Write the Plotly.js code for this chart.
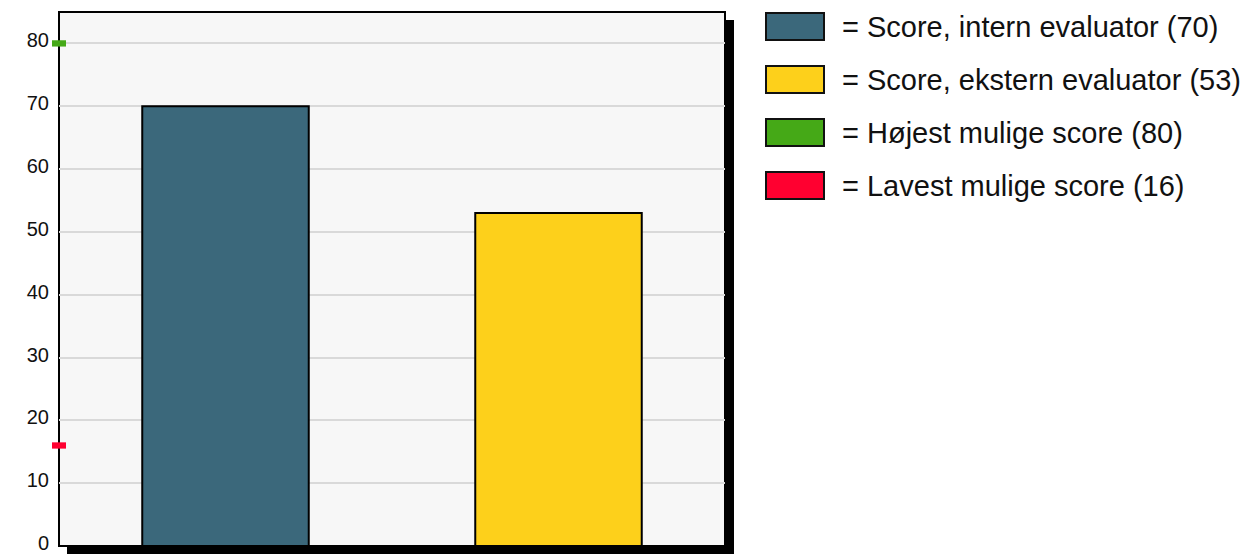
<!DOCTYPE html>
<html>
<head>
<meta charset="utf-8">
<script src="https://cdn.plot.ly/plotly-3.0.1.min.js"></script>
<style>html,body{margin:0;padding:0;background:#fff;}#chart{width:1251px;height:554px;}</style>
</head>
<body>
<div id="chart"></div>
<script>
const categories = ['Intern', 'Ekstern'];
const scores = [70, 53];
const barColors = ['#3b687b', '#fdd01b'];
const maxScore = 80;
const minScore = 16;
const markerColors = ['#45a917', '#ff0030'];
const legendLabels = ['Score, intern evaluator', 'Score, ekstern evaluator', 'Højest mulige score', 'Lavest mulige score'];
const legendValues = [scores[0], scores[1], maxScore, minScore];
const legendColors = [barColors[0], barColors[1], markerColors[0], markerColors[1]];
const yTicks = [0, 10, 20, 30, 40, 50, 60, 70, 80];

const W = 1251, H = 554;
const L = 59, R = 725, T = 12, B = 546;
const pw = R - L, ph = B - T;
const px = v => (v - L) / pw;
const py = v => (B - v) / ph;

const shapes = [
  {type:'rect', xref:'paper', yref:'paper', layer:'below', x0:px(L+8), x1:px(R+9), y0:py(B+9), y1:py(T+8), fillcolor:'#000', line:{width:0}},
  {type:'rect', xref:'paper', yref:'paper', layer:'below', x0:0, x1:1, y0:0, y1:1, fillcolor:'#f7f7f7', line:{color:'#000', width:2}}
];
[maxScore, minScore].forEach((v, i) => {
  shapes.push({type:'rect', xref:'paper', yref:'y', layer:'above', x0:px(52), x1:px(66), y0:v - 0.5, y1:v + 0.5, fillcolor:markerColors[i], line:{width:0}});
});
const annotations = [];
const rowTops = [13, 66, 119, 172];
legendLabels.forEach((lab, i) => {
  shapes.push({type:'rect', xref:'paper', yref:'paper', x0:px(766), x1:px(824), y0:py(rowTops[i] + 27), y1:py(rowTops[i]), fillcolor:legendColors[i], line:{color:'#111', width:2}});
  annotations.push({xref:'paper', yref:'paper', x:px(840), y:py(rowTops[i] + 14), xanchor:'left', yanchor:'middle', showarrow:false, text:'= ' + lab + ' (' + legendValues[i] + ')', font:{family:'Liberation Sans, Arial, sans-serif', size:29, color:'#111'}});
});

const data = [{
  type:'bar', x:categories, y:scores, width:0.5,
  marker:{color:barColors, line:{color:'#000', width:2}},
  hoverinfo:'none'
}];

const layout = {
  width:W, height:H,
  margin:{l:L, r:W - R, t:T, b:H - B, pad:0},
  paper_bgcolor:'#fff', plot_bgcolor:'rgba(0,0,0,0)',
  showlegend:false,
  xaxis:{range:[-0.5, 1.5], showticklabels:false, showgrid:false, zeroline:false, showline:false, ticks:''},
  yaxis:{range:[0, 85], tickvals:yTicks, ticktext:yTicks.map(String), showgrid:true, gridcolor:'#d9d9d9', gridwidth:2, zeroline:false, showline:false, ticks:'', ticklabelstandoff:9, ticklabelshift:-3, ticklabeloverflow:'allow',
         tickfont:{family:'Liberation Sans, Arial, sans-serif', size:20, color:'#111'}},
  shapes:shapes, annotations:annotations
};
Plotly.newPlot('chart', data, layout, {staticPlot:true});
</script>
</body>
</html>
